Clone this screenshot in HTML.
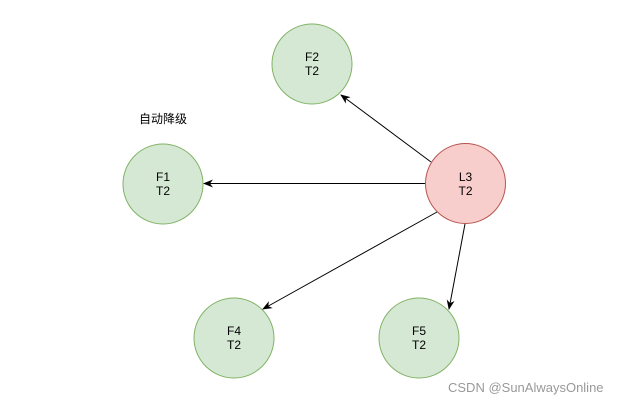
<!DOCTYPE html>
<html><head><meta charset="utf-8"><style>
body{margin:0;background:#fff;width:620px;height:404px;overflow:hidden}
</style></head><body>
<svg width="620" height="404" xmlns="http://www.w3.org/2000/svg" font-family="Liberation Sans, Noto Sans CJK SC, sans-serif">
<defs><marker id="a" markerWidth="10" markerHeight="8" refX="9" refY="4" orient="auto" markerUnits="userSpaceOnUse"><path d="M0,0 L10,4 L0,8 L3,4 z" fill="#000"/></marker></defs>
<g fill="#d5e8d4" stroke="#82b366" stroke-width="1">
<circle cx="312" cy="64" r="40"/>
<circle cx="163" cy="184" r="40"/>
<circle cx="234" cy="338" r="40"/>
<circle cx="419" cy="338" r="40"/>
</g>
<circle cx="465.5" cy="183.5" r="40" fill="#f8cecc" stroke="#b85450"/>
<g stroke="#000" stroke-width="1" marker-end="url(#a)">
<line x1="431" y1="162" x2="341" y2="95"/>
<line x1="425" y1="183.5" x2="204" y2="183.5"/>
<line x1="437" y1="212" x2="263" y2="309"/>
<line x1="465" y1="224" x2="449" y2="309"/>
</g>
<g font-size="12" text-anchor="middle" fill="#000">
<text x="312" y="61">F2</text><text x="312" y="75">T2</text>
<text x="163" y="181">F1</text><text x="163" y="195">T2</text>
<text x="234" y="335">F4</text><text x="234" y="349">T2</text>
<text x="419" y="335">F5</text><text x="419" y="349">T2</text>
<text x="465.5" y="181">L3</text><text x="465.5" y="195">T2</text>
<text x="163" y="123">自动降级</text>
</g>
<text x="448" y="392" font-size="13" fill="#999">CSDN @SunAlwaysOnline</text>
</svg>
</body></html>
